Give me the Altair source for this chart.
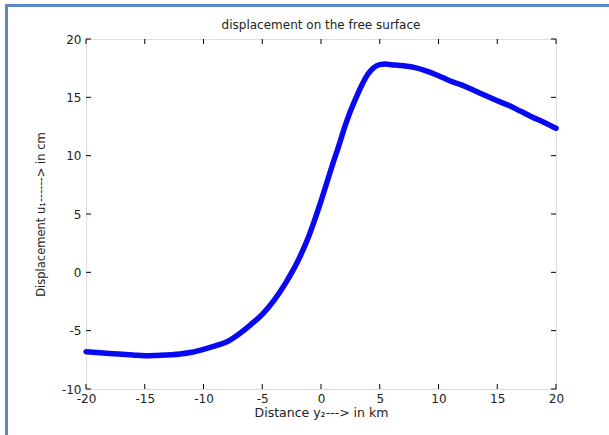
import altair as alt
import pandas as pd

# Data
dist_km = [-20, -18, -16, -15, -14, -12, -11, -10, -9, -8, -7, -6, -5, -4, -3, -2, -1,
           -0.5, 0, 0.5, 1, 1.5, 2, 2.5, 3, 3.5, 4, 4.5, 5, 5.5, 6, 7, 8, 9, 10,
           11, 12, 13, 14, 15, 16, 17, 18, 19, 20]
disp_cm = [-6.8, -6.95, -7.08, -7.15, -7.12, -7.0, -6.85, -6.6, -6.3, -5.95, -5.3, -4.5, -3.6, -2.4, -0.9, 0.9, 3.2,
           4.6, 6.1, 7.7, 9.3, 10.8, 12.4, 13.8, 15.0, 16.1, 17.0, 17.55, 17.8, 17.85, 17.8, 17.7, 17.55, 17.25, 16.85,
           16.4, 16.05, 15.6, 15.15, 14.7, 14.3, 13.8, 13.3, 12.85, 12.35]
x_ticks = [-20, -15, -10, -5, 0, 5, 10, 15, 20]
y_ticks = [-10, -5, 0, 5, 10, 15, 20]
title_text = ["displacement on the free surface"]

W, H = 470, 350
FONT = "DejaVu Sans"
TXT = "#222222"
MINUS = "replace(datum.label, '\u2212', '-')"

df = pd.DataFrame({"x": dist_km, "y": disp_cm})
xt = pd.DataFrame({"t": x_ticks})
yt = pd.DataFrame({"t": y_ticks})
tt = pd.DataFrame({"label": title_text})

xscale = alt.Scale(domain=[-20, 20], nice=False, zero=False)
yscale = alt.Scale(domain=[-10, 20], nice=False, zero=False)

line = alt.Chart(df).mark_line(color="#0808f2", strokeWidth=5.5, strokeJoin="round", strokeCap="round",
                               interpolate="monotone").encode(
    x=alt.X("x:Q", scale=xscale,
            axis=alt.Axis(values=x_ticks, title="Distance y₂---> in km", domain=False, ticks=False,
                          grid=False, labelPadding=4, labelFontSize=12, labelFont=FONT, labelColor=TXT,
                          labelExpr=MINUS,
                          titleFont=FONT, titleFontSize=12.5, titleFontWeight="normal", titleColor=TXT,
                          titlePadding=2, labelFlush=False)),
    y=alt.Y("y:Q", scale=yscale,
            axis=alt.Axis(values=y_ticks, title="Displacement u₁------> in cm", domain=False, ticks=False,
                          grid=False, labelPadding=5, labelFontSize=12, labelFont=FONT, labelColor=TXT,
                          labelExpr=MINUS,
                          titleFont=FONT, titleFontSize=11.5, titleFontWeight="normal", titleColor=TXT,
                          titlePadding=15, labelFlush=False)),
)

tk = dict(color="black", strokeWidth=1)
bot = alt.Chart(xt).mark_rule(**tk).encode(x=alt.X("t:Q", scale=xscale), y=alt.value(H), y2=alt.value(H - 5))
top = alt.Chart(xt).mark_rule(**tk).encode(x=alt.X("t:Q", scale=xscale), y=alt.value(0), y2=alt.value(5))
left = alt.Chart(yt).mark_rule(**tk).encode(y=alt.Y("t:Q", scale=yscale), x=alt.value(0), x2=alt.value(5))
right = alt.Chart(yt).mark_rule(**tk).encode(y=alt.Y("t:Q", scale=yscale), x=alt.value(W), x2=alt.value(W - 5))

title = alt.Chart(tt).mark_text(font=FONT, fontSize=12, color=TXT, baseline="middle", align="center").encode(
    text="label:N", x=alt.value(W / 2), y=alt.value(-14.5))

frame_c = "#5b87c5"
frame_l = alt.Chart(xt).mark_rule(color=frame_c, strokeWidth=2).encode(
    x=alt.value(-79.5), y=alt.value(-34), y2=alt.value(400))
frame_t = alt.Chart(xt).mark_rule(color=frame_c, strokeWidth=2).encode(
    y=alt.value(-33.5), x=alt.value(-80.5), x2=alt.value(530))

chart = alt.layer(frame_l, frame_t, line, bot, top, left, right, title).properties(
    width=W, height=H,
    autosize=alt.AutoSizeParams(type="none"),
    padding={"left": 86, "top": 39, "right": 53, "bottom": 46},
).configure_view(stroke="black", strokeWidth=1).configure(background="white")

chart.save("out.html", embed_options={"renderer": "svg", "actions": False})
